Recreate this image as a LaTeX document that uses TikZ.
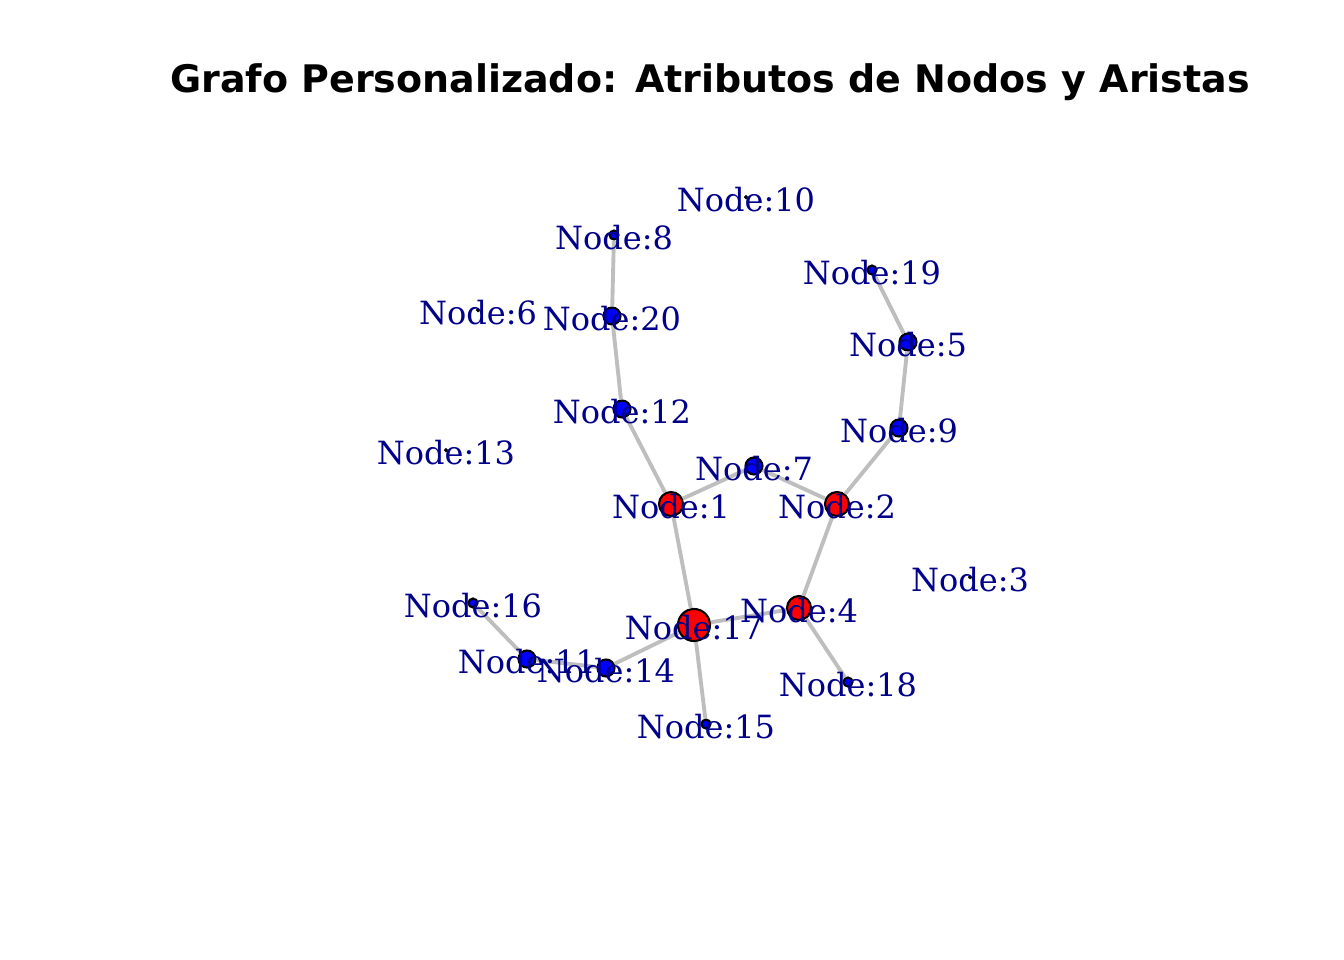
\documentclass[tikz,border=0pt]{standalone}
\usepackage{fontspec}
\setmainfont{DejaVu Serif}
\newfontfamily\titlefont{DejaVu Sans}
\definecolor{edgegray}{HTML}{BEBEBE}
\definecolor{labelblue}{HTML}{00008B}
\tikzset{
  vtx/.style={circle, draw=black, line width=0.6pt, inner sep=0pt},
  hub/.style={vtx, fill=red},
  leaf/.style={vtx, fill=blue},
  lone/.style={vtx, fill=black, line width=0.3pt, minimum size=0.03cm},
  edge/.style={draw=edgegray, line width=1.1pt},
  lbl/.style={text=labelblue, font=\fontsize{9.1}{11}\selectfont, inner sep=0pt, yshift=-0.03cm}
}
\begin{document}
\begin{tikzpicture}[x=0.01cm, y=-0.01cm]
    \useasboundingbox (0,0) rectangle (1344,960);
    \node[font=\titlefont\bfseries\fontsize{10.8}{13}\selectfont] (title) at (710,82) {Grafo Personalizado: Atributos de Nodos y Aristas};

    % Vertices, sized by degree
    \node[hub, minimum size=0.24cm] (n1) at (671,504) {};
    \node[hub, minimum size=0.24cm] (n2) at (837,504) {};
    \node[lone] (n3) at (970,577) {};
    \node[hub, minimum size=0.24cm] (n4) at (799,608) {};
    \node[leaf, minimum size=0.17cm] (n5) at (908,342) {};
    \node[lone] (n6) at (478,310) {};
    \node[leaf, minimum size=0.17cm] (n7) at (754,466) {};
    \node[leaf, minimum size=0.09cm] (n8) at (614,235) {};
    \node[leaf, minimum size=0.17cm] (n9) at (899,428) {};
    \node[lone] (n10) at (746,197) {};
    \node[leaf, minimum size=0.17cm] (n11) at (527,659) {};
    \node[leaf, minimum size=0.17cm] (n12) at (622,409) {};
    \node[lone] (n13) at (446,450) {};
    \node[leaf, minimum size=0.17cm] (n14) at (606,668) {};
    \node[leaf, minimum size=0.09cm] (n15) at (706,724) {};
    \node[leaf, minimum size=0.09cm] (n16) at (473,603) {};
    \node[hub, minimum size=0.32cm] (n17) at (694,625) {};
    \node[leaf, minimum size=0.09cm] (n18) at (848,682) {};
    \node[leaf, minimum size=0.09cm] (n19) at (872,270) {};
    \node[leaf, minimum size=0.17cm] (n20) at (612,316) {};

    % Edges
    \draw[edge] (n8) -- (n20);
    \draw[edge] (n20) -- (n12);
    \draw[edge] (n12) -- (n1);
    \draw[edge] (n1) -- (n7);
    \draw[edge] (n7) -- (n2);
    \draw[edge] (n2) -- (n9);
    \draw[edge] (n9) -- (n5);
    \draw[edge] (n5) -- (n19);
    \draw[edge] (n1) -- (n17);
    \draw[edge] (n2) -- (n4);
    \draw[edge] (n4) -- (n17);
    \draw[edge] (n4) -- (n18);
    \draw[edge] (n17) -- (n14);
    \draw[edge] (n17) -- (n15);
    \draw[edge] (n14) -- (n11);
    \draw[edge] (n11) -- (n16);

    % Labels on top
    \node[lbl] at (n1) {Node:1};
    \node[lbl] at (n2) {Node:2};
    \node[lbl] at (n3) {Node:3};
    \node[lbl] at (n4) {Node:4};
    \node[lbl] at (n5) {Node:5};
    \node[lbl] at (n6) {Node:6};
    \node[lbl] at (n7) {Node:7};
    \node[lbl] at (n8) {Node:8};
    \node[lbl] at (n9) {Node:9};
    \node[lbl] at (n10) {Node:10};
    \node[lbl] at (n11) {Node:11};
    \node[lbl] at (n12) {Node:12};
    \node[lbl] at (n13) {Node:13};
    \node[lbl] at (n14) {Node:14};
    \node[lbl] at (n15) {Node:15};
    \node[lbl] at (n16) {Node:16};
    \node[lbl] at (n17) {Node:17};
    \node[lbl] at (n18) {Node:18};
    \node[lbl] at (n19) {Node:19};
    \node[lbl] at (n20) {Node:20};
\end{tikzpicture}
\end{document}
